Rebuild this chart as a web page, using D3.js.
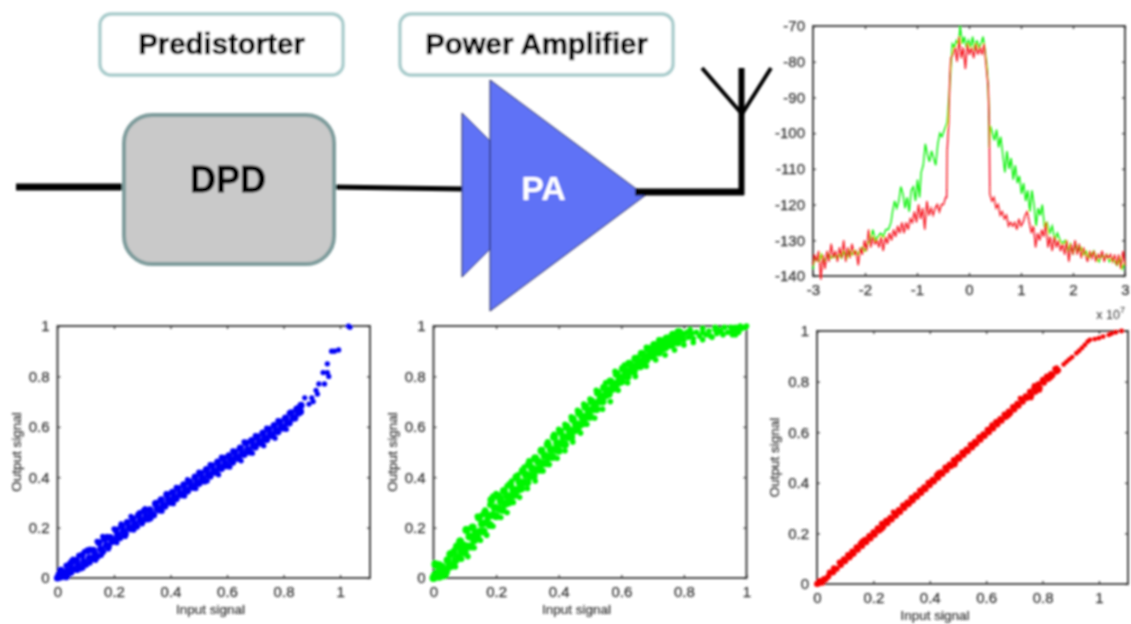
<!DOCTYPE html>
<html>
<head>
<meta charset="utf-8">
<style>
  html, body { margin: 0; padding: 0; background: #fff; }
  text { font-family: "Liberation Sans", Arial, sans-serif; }
</style>
<script src="https://cdn.jsdelivr.net/npm/d3@7"></script>
</head>
<body>
<script>
// tick labels
var unitTicks = [0, 0.2, 0.4, 0.6, 0.8, 1];
var freqTicks = [-3, -2, -1, 0, 1, 2, 3];
var dbTicks = [-140, -130, -120, -110, -100, -90, -80, -70];

// spectrum, x in units of 1e7 Hz, y in dB
var greenSpectrum = [
    [-3,-138],[-2.97,-135],[-2.93,-135],[-2.88,-136],[-2.84,-134],[-2.8,-136],[-2.75,-135],[-2.7,-134],[-2.65,-135],
    [-2.6,-134],[-2.55,-135],[-2.5,-134],[-2.45,-135],[-2.4,-133],[-2.35,-135],[-2.3,-133],[-2.25,-134],[-2.2,-133],
    [-2.15,-134],[-2.1,-133],[-2.05,-132],[-2,-133],[-1.95,-131],[-1.9,-130],[-1.85,-127],[-1.8,-130],[-1.75,-129],
    [-1.7,-128],[-1.65,-129],[-1.6,-127],[-1.55,-127],[-1.5,-125],[-1.47,-122],[-1.43,-119],[-1.39,-121],[-1.35,-119],
    [-1.31,-115],[-1.27,-117],[-1.23,-121],[-1.19,-118],[-1.15,-122],[-1.11,-116],[-1.07,-115],[-1.03,-119],[-0.99,-113],
    [-0.95,-118],[-0.92,-111],[-0.88,-109],[-0.84,-103],[-0.8,-106],[-0.76,-108],[-0.72,-105],[-0.68,-107],[-0.64,-109],
    [-0.6,-103],[-0.56,-100],[-0.52,-101],[-0.47,-99],[-0.42,-97],[-0.38,-89],[-0.35,-82],[-0.32,-75],[-0.28,-76],
    [-0.24,-74],[-0.2,-75],[-0.17,-70],[-0.13,-75],[-0.09,-73],[-0.05,-76],[-0.01,-74],[0.03,-76],[0.07,-73],
    [0.11,-77],[0.15,-74],[0.19,-76],[0.23,-75],[0.27,-73],[0.31,-77],[0.35,-82],[0.38,-92],[0.39,-104],
    [0.41,-98],[0.45,-100],[0.49,-102],[0.53,-99],[0.57,-104],[0.61,-101],[0.65,-106],[0.69,-111],[0.73,-105],
    [0.77,-110],[0.81,-107],[0.85,-113],[0.89,-109],[0.93,-114],[0.97,-112],[1.01,-117],[1.05,-114],[1.09,-119],
    [1.13,-116],[1.17,-122],[1.21,-116],[1.25,-120],[1.29,-126],[1.33,-121],[1.37,-123],[1.41,-120],[1.45,-126],
    [1.5,-125],[1.55,-128],[1.6,-126],[1.65,-130],[1.7,-128],[1.75,-130],[1.8,-131],[1.85,-130],[1.9,-133],
    [1.95,-131],[2,-134],[2.05,-131],[2.1,-133],[2.15,-132],[2.2,-134],[2.25,-133],[2.3,-135],[2.35,-134],
    [2.4,-133],[2.45,-135],[2.5,-136],[2.55,-134],[2.6,-135],[2.65,-134],[2.7,-136],[2.75,-135],[2.8,-136],
    [2.85,-137],[2.9,-135],[2.95,-138],[3,-136]
];
var redSpectrum = [
    [-3,-137],[-2.97,-134],[-2.93,-136],[-2.89,-133],[-2.85,-141],[-2.81,-134],[-2.77,-138],[-2.73,-133],[-2.69,-136],
    [-2.65,-131],[-2.61,-135],[-2.57,-133],[-2.53,-136],[-2.49,-132],[-2.45,-135],[-2.41,-130],[-2.37,-136],[-2.33,-132],
    [-2.29,-135],[-2.25,-131],[-2.21,-134],[-2.17,-133],[-2.13,-137],[-2.09,-132],[-2.05,-134],[-2.01,-130],[-1.97,-133],
    [-1.93,-127],[-1.89,-132],[-1.85,-129],[-1.81,-131],[-1.77,-130],[-1.73,-132],[-1.69,-129],[-1.65,-133],[-1.61,-129],
    [-1.57,-131],[-1.53,-128],[-1.49,-130],[-1.45,-127],[-1.41,-129],[-1.37,-126],[-1.33,-128],[-1.29,-125],[-1.25,-128],
    [-1.21,-125],[-1.17,-127],[-1.13,-124],[-1.09,-125],[-1.05,-122],[-1.01,-125],[-0.97,-120],[-0.93,-124],[-0.89,-121],
    [-0.85,-127],[-0.81,-119],[-0.77,-123],[-0.73,-121],[-0.69,-123],[-0.65,-121],[-0.61,-120],[-0.57,-122],[-0.53,-120],
    [-0.49,-120],[-0.45,-118],[-0.43,-118],[-0.42,-105],[-0.39,-97],[-0.37,-85],[-0.35,-79],[-0.31,-78],[-0.27,-76],
    [-0.23,-80],[-0.19,-73],[-0.15,-79],[-0.11,-76],[-0.07,-82],[-0.03,-75],[0.01,-78],[0.05,-76],[0.09,-79],
    [0.13,-75],[0.17,-78],[0.21,-76],[0.25,-78],[0.29,-75],[0.33,-81],[0.37,-87],[0.39,-98],[0.4,-117],
    [0.44,-119],[0.48,-118],[0.52,-121],[0.56,-120],[0.6,-123],[0.64,-122],[0.68,-124],[0.72,-123],[0.76,-126],
    [0.8,-125],[0.84,-126],[0.88,-125],[0.92,-127],[0.96,-124],[1,-126],[1.04,-125],[1.08,-123],[1.12,-122],
    [1.16,-125],[1.2,-128],[1.24,-126],[1.28,-132],[1.32,-128],[1.36,-130],[1.4,-127],[1.44,-129],[1.48,-125],
    [1.52,-132],[1.56,-129],[1.6,-133],[1.64,-129],[1.68,-132],[1.72,-130],[1.76,-133],[1.8,-131],[1.84,-134],
    [1.88,-130],[1.92,-136],[1.96,-131],[2,-134],[2.04,-130],[2.08,-134],[2.12,-131],[2.16,-135],[2.2,-132],
    [2.24,-134],[2.28,-136],[2.32,-133],[2.36,-135],[2.4,-133],[2.44,-136],[2.48,-134],[2.52,-135],[2.56,-133],
    [2.6,-136],[2.64,-134],[2.68,-135],[2.72,-134],[2.76,-136],[2.8,-134],[2.84,-137],[2.88,-134],[2.92,-138],
    [2.96,-133],[3,-137]
];

// input vs output: dense band, its jagged edge points, sparse points at the top end
var blueBand = [
    [0,0],[.005,.012],[.01,.004],[.012,.03],[.02,.01],[.028,.018],[.03,.005],[.035,.028],
    [.04,.02],[.045,.055],[.05,.035],[.052,.065],[.06,.035],[.067,.07],[.073,.05],
    [.08,.04],[.087,.09],[.093,.065],[.10,.055],[.107,.108],[.113,.08],[.12,.075],[.127,.11],[.133,.095],
    [.14,.085],[.147,.14],[.153,.115],[.16,.105],[.167,.155],[.173,.13],[.18,.125],[.187,.16],[.193,.145],
    [.20,.15],[.207,.19],[.213,.17],[.22,.16],[.227,.205],[.233,.185],[.24,.175],[.247,.22],[.253,.20],
    [.26,.195],[.267,.235],[.273,.215],[.28,.205],[.287,.25],[.293,.23],[.30,.225],[.307,.265],[.313,.245],
    [.32,.235],[.327,.27],[.333,.255],[.34,.25],[.347,.295],[.353,.275],[.36,.27],[.367,.31],[.373,.29],
    [.38,.285],[.387,.33],[.393,.31],[.40,.30],[.407,.34],[.413,.32],[.42,.315],[.427,.355],[.433,.335],
    [.44,.33],[.447,.37],[.453,.35],[.46,.345],[.467,.382],[.473,.365],[.48,.36],[.487,.40],[.493,.38],
    [.50,.375],[.507,.415],[.513,.395],[.52,.385],[.527,.43],[.533,.41],[.54,.405],[.547,.445],[.553,.425],
    [.56,.42],[.567,.46],[.573,.44],[.58,.435],[.587,.475],[.593,.455],[.60,.445],[.607,.485],[.613,.47],
    [.62,.46],[.627,.50],[.633,.48],[.64,.475],[.647,.515],[.653,.495],[.66,.49],[.667,.535],[.673,.51],
    [.68,.50],[.687,.545],[.693,.525],[.70,.52],[.707,.56],[.713,.54],[.72,.535],[.727,.575],[.733,.555],
    [.74,.55],[.747,.59],[.753,.57],[.76,.565],[.767,.605],[.773,.585],[.78,.58],[.787,.62],[.793,.60],
    [.80,.595],[.807,.635],[.813,.615],[.82,.615],[.827,.655],[.833,.635],[.84,.635],[.847,.67],[.853,.655],[.86,.66],[.862,.685]
];
var blueEdge = [
    [.03,.05],[.055,.075],[.075,.09],[.095,.105],[.115,.115],[.14,.145],[.16,.165],[.175,.165],[.2,.195],[.225,.215],
    [.26,.245],[.29,.26],[.31,.275],[.35,.30],[.385,.335],[.42,.36],[.46,.39],[.5,.42],[.54,.45],[.58,.48],
    [.62,.505],[.66,.54],[.7,.565],[.74,.595],[.78,.625],[.82,.655],[.85,.675],
    [.05,.02],[.07,.03],[.09,.04],[.115,.06],[.135,.07],[.155,.09],[.18,.115],[.21,.14],[.24,.165],[.27,.19],
    [.3,.215],[.33,.235],[.37,.265],[.41,.295],[.45,.325],[.49,.355],[.53,.385],[.57,.41],[.61,.44],[.65,.465],
    [.69,.495],[.73,.525],[.77,.555],[.81,.59]
];
var blueTail = [
    [.875,.715],[.89,.69],[.90,.715],[.905,.70],[.915,.745],[.925,.77],[.92,.73],[.945,.77],[.94,.815],
    [.955,.85],[.96,.80],[.955,.815],[.97,.90],[.98,.90],[.995,.905],[1.035,.995],[1.03,1]
];
var greenBand = [
    [0,0],[.004,.01],[.006,.055],[.012,.02],[.015,.05],[.018,.005],[.022,.015],[.026,.045],[.03,.01],[.035,.03],
    [.04,.025],[.045,.07],[.05,.045],[.055,.095],[.06,.05],[.065,.10],[.07,.07],[.075,.125],
    [.08,.08],[.085,.145],[.09,.105],[.095,.13],[.10,.10],[.105,.19],[.11,.125],[.115,.165],
    [.12,.125],[.125,.20],[.13,.15],[.135,.18],[.14,.16],[.145,.24],[.15,.185],[.155,.215],
    [.16,.185],[.165,.26],[.17,.22],[.175,.245],[.18,.21],[.185,.31],[.19,.25],[.195,.28],
    [.20,.245],[.205,.325],[.21,.275],[.215,.305],[.22,.27],[.225,.345],[.23,.295],[.235,.325],
    [.24,.30],[.245,.37],[.25,.325],[.255,.35],[.26,.33],[.265,.40],[.27,.35],[.275,.38],
    [.28,.355],[.285,.425],[.29,.38],[.295,.41],[.30,.38],[.305,.45],[.31,.405],[.315,.435],
    [.32,.405],[.325,.475],[.33,.43],[.335,.46],[.34,.43],[.345,.505],[.35,.455],[.355,.485],
    [.36,.455],[.365,.53],[.37,.48],[.375,.51],[.38,.48],[.385,.56],[.39,.51],[.395,.535],
    [.40,.505],[.405,.58],[.41,.535],[.415,.56],[.42,.53],[.425,.60],[.43,.56],[.435,.585],
    [.44,.56],[.445,.63],[.45,.585],[.455,.61],[.46,.59],[.465,.655],[.47,.61],[.475,.64],
    [.48,.615],[.485,.68],[.49,.64],[.495,.665],[.50,.64],[.505,.70],[.51,.67],[.515,.69],
    [.52,.67],[.525,.735],[.53,.70],[.535,.72],[.54,.70],[.545,.755],[.55,.725],[.555,.745],
    [.56,.73],[.565,.78],[.57,.75],[.575,.77],[.58,.755],[.585,.81],[.59,.775],[.595,.795],
    [.60,.78],[.605,.83],[.61,.80],[.615,.82],[.62,.80],[.625,.85],[.63,.82],[.635,.84],
    [.64,.82],[.645,.87],[.65,.84],[.655,.86],[.66,.84],[.665,.89],[.67,.86],[.675,.88],
    [.68,.865],[.685,.91],[.69,.88],[.695,.90],[.70,.88],[.705,.925],[.71,.895],[.715,.915],
    [.72,.895],[.725,.94],[.73,.91],[.735,.93],[.74,.915],[.745,.95],[.75,.925],[.755,.945],
    [.76,.925],[.765,.965],[.77,.94],[.775,.955],[.78,.935],[.785,.975],[.79,.95],[.795,.965]
];
var greenEdge = [
    [.02,.055],[.05,.095],[.065,.11],[.085,.15],[.105,.195],[.125,.16],[.14,.245],[.155,.25],[.165,.27],[.18,.29],
    [.19,.325],[.2,.335],[.215,.32],[.235,.365],[.25,.385],[.27,.41],[.29,.44],[.305,.465],[.32,.47],[.345,.51],
    [.365,.54],[.385,.57],[.4,.59],[.42,.61],[.44,.64],[.46,.665],[.48,.69],[.5,.71],[.52,.745],[.55,.775],
    [.58,.82],[.61,.845],[.65,.875],[.68,.915],[.72,.945],[.75,.955],[.78,.98],[.82,.985],[.86,.99],[.9,.995],
    [.04,.012],[.07,.045],[.09,.075],[.11,.085],[.13,.12],[.15,.15],[.17,.17],[.19,.205],[.215,.24],[.235,.26],
    [.255,.30],[.275,.32],[.30,.355],[.325,.385],[.35,.425],[.37,.45],[.395,.475],[.42,.505],[.445,.54],[.47,.575],
    [.49,.61],[.515,.635],[.54,.67],[.565,.70],[.59,.745],[.62,.775],[.645,.80],[.68,.84],[.71,.865],[.74,.885],
    [.77,.905],[.80,.925],[.83,.935],[.86,.945],[.89,.955],[.925,.965],[.955,.965],[.975,.975],[.965,.965]
];
var greenTail = [
    [.80,.945],[.81,.975],[.815,.955],[.825,.97],[.83,.95],[.84,.975],[.85,.96],[.86,.975],[.87,.965],[.88,.98],
    [.885,.96],[.9,.985],[.905,.97],[.915,.985],[.92,.975],[.93,.995],[.94,.975],[.95,.995],[.955,.98],
    [.965,.995],[.97,.985],[.98,1],[.985,.99],[.995,.995],[1,1]
];
var redBand = [
    [0,0],[.005,.002],[.01,.012],[.018,.005],[.025,.02],[.03,.018],[.04,.03],[.045,.045],[.055,.045],[.06,.062],
    [.07,.06],[.08,.085],[.085,.075],[.095,.098],[.10,.09],[.11,.115],[.115,.105],[.125,.128],[.13,.12],[.14,.145],
    [.145,.135],[.155,.16],[.16,.15],[.17,.175],[.175,.165],[.185,.19],[.19,.18],[.20,.205],[.205,.195],[.215,.22],
    [.22,.21],[.23,.238],[.235,.225],[.245,.25],[.25,.24],[.26,.262],[.265,.255],[.275,.28],[.28,.27],[.29,.292],
    [.295,.285],[.305,.31],[.31,.30],[.32,.322],[.325,.315],[.335,.34],[.34,.33],[.35,.352],[.355,.345],[.365,.37],
    [.37,.36],[.38,.382],[.385,.375],[.395,.40],[.40,.39],[.41,.412],[.415,.405],[.425,.43],[.43,.42],[.44,.442],
    [.445,.435],[.455,.46],[.46,.45],[.47,.472],[.475,.465],[.485,.49],[.49,.48],[.50,.502],[.505,.495],[.515,.52],
    [.52,.51],[.53,.532],[.535,.525],[.545,.55],[.55,.54],[.56,.562],[.565,.555],[.575,.58],[.58,.57],[.59,.592],
    [.595,.585],[.605,.61],[.61,.60],[.62,.622],[.625,.615],[.635,.64],[.64,.63],[.65,.652],[.655,.645],[.665,.67],
    [.67,.66],[.68,.682],[.685,.675],[.695,.70],[.70,.69],[.71,.712],[.715,.705],[.725,.73],[.73,.72],[.74,.742],
    [.745,.735],[.755,.76],[.76,.745],[.77,.775],[.775,.76],[.785,.79],[.79,.775],[.80,.802],[.805,.795],[.815,.82],
    [.82,.81],[.83,.83],[.835,.825],[.845,.85],[.85,.84],[.855,.845]
];
var redEdge = [
    [.06,.045],[.12,.11],[.16,.17],[.23,.215],[.27,.285],[.33,.32],[.43,.44],[.49,.47],[.56,.55],[.62,.63],
    [.68,.665],[.72,.735],[.76,.735],[.77,.785],[.79,.765],[.8,.81],[.83,.815],[.85,.855]
];
var redTail = [
    [.875,.868],[.885,.878],[.895,.888],[.905,.897],[.92,.912],[.93,.922],[.94,.933],[.95,.945],[.96,.958],[.968,.965],
    [.985,.968],[1,.972],[1.015,.978],[1.035,.985],[1.045,.99],[1.06,.995],[1.08,1]
];

var svg = d3.select('body').append('svg')
    .attr('width', 1131)
    .attr('height', 624);

// the picture is a soft screenshot; below about 0.8 the blur has no effect
var defs = svg.append('defs');
defs.append('filter').attr('id', 'soft').attr('x', '-5%').attr('y', '-5%').attr('width', '110%').attr('height', '110%')
    .append('feGaussianBlur').attr('stdDeviation', 0.85);

function drawAxes(g, x, y, w, h, xTicks, yTicks) {
    var axes = [
        { ax: d3.axisBottom(x).tickValues(xTicks), at: [0, h], label: true },
        { ax: d3.axisTop(x).tickValues(xTicks), at: [0, 0], label: false },
        { ax: d3.axisLeft(y).tickValues(yTicks), at: [0, 0], label: true },
        { ax: d3.axisRight(y).tickValues(yTicks), at: [w, 0], label: false }
    ];
    axes.forEach(function (a) {
        var ag = g.append('g')
            .attr('transform', 'translate(' + a.at[0] + ',' + a.at[1] + ')')
            .call(a.ax.tickSize(-3).tickSizeOuter(0).tickPadding(8).tickFormat(function (d) { return a.label ? String(d) : ''; }));
        ag.select('.domain').remove();
        ag.selectAll('line').attr('stroke', '#333').attr('stroke-width', 1.2);
        ag.selectAll('text').attr('fill', '#333').attr('stroke', '#333').attr('stroke-width', 0.25)
            .attr('font-size', 15).attr('font-family', null);
    });
    g.append('rect')
        .attr('width', w).attr('height', h)
        .attr('fill', 'none').attr('stroke', '#333').attr('stroke-width', 1.8);
}

function scatterPanel(root, box, xMax, band, edge, tail, colour, radius) {
    var w = box.right - box.left, h = box.bottom - box.top;
    var x = d3.scaleLinear().domain([0, xMax]).range([0, w]);
    var y = d3.scaleLinear().domain([0, 1]).range([h, 0]);
    var g = root.append('g').attr('transform', 'translate(' + box.left + ',' + box.top + ')');
    drawAxes(g, x, y, w, h, unitTicks, unitTicks);
    function dots(pts, r) {
        g.append('g').selectAll('circle').data(pts).join('circle')
            .attr('cx', function (d) { return x(d[0]); })
            .attr('cy', function (d) { return y(d[1]); })
            .attr('r', r)
            .attr('fill', colour);
    }
    dots(band, radius);
    dots(edge, box.tailR);
    dots(tail, box.tailR);
    g.append('text').attr('x', box.xLabel).attr('y', h + 36)
        .attr('text-anchor', 'middle').attr('font-size', 13.5).attr('fill', '#333').attr('stroke', '#333').attr('stroke-width', 0.2)
        .text('Input signal');
    g.append('text').attr('transform', 'translate(' + box.yLabel + ',' + (h / 2) + ') rotate(-90)')
        .attr('text-anchor', 'middle').attr('font-size', 13.5).attr('fill', '#333').attr('stroke', '#333').attr('stroke-width', 0.2)
        .text('Output signal');
}

var plots = svg.append('g').attr('filter', 'url(#soft)');

// spectrum
var sp = { left: 813, right: 1125, top: 26, bottom: 276 };
var spW = sp.right - sp.left, spH = sp.bottom - sp.top;
var spX = d3.scaleLinear().domain([-3, 3]).range([0, spW]);
var spY = d3.scaleLinear().domain([-140, -70]).range([spH, 0]);
var spG = plots.append('g').attr('transform', 'translate(' + sp.left + ',' + sp.top + ')');
drawAxes(spG, spX, spY, spW, spH, freqTicks, dbTicks);
var spLine = d3.line().x(function (d) { return spX(d[0]); }).y(function (d) { return spY(d[1]); });
spG.append('path').datum(greenSpectrum).attr('d', spLine)
    .attr('fill', 'none').attr('stroke', '#00f000').attr('stroke-width', 1.4);
spG.append('path').datum(redSpectrum).attr('d', spLine)
    .attr('fill', 'none').attr('stroke', '#f5101a').attr('stroke-width', 1.4);
var exp = spG.append('text').attr('x', spW).attr('y', spH + 43)
    .attr('text-anchor', 'end').attr('font-size', 12.5).attr('fill', '#333');
exp.append('tspan').text('x 10');
exp.append('tspan').attr('dy', -6).attr('font-size', 9).text('7');

// scatter panels
scatterPanel(plots, { left: 57.5, right: 370, top: 326, bottom: 578, xLabel: 153, yLabel: -37, tailR: 2.6 }, 1.106, blueBand, blueEdge, blueTail, '#0000f5', 3.6);
scatterPanel(plots, { left: 433.5, right: 746.5, top: 326, bottom: 578, xLabel: 143, yLabel: -37, tailR: 2.8 }, 1, greenBand, greenEdge, greenTail, '#00f500', 4);
scatterPanel(plots, { left: 817, right: 1128, top: 331, bottom: 584, xLabel: 118, yLabel: -38, tailR: 2.4 }, 1.103, redBand, redEdge, redTail, '#f50000', 3);

// block diagram
var dia = svg.append('g').attr('filter', 'url(#soft)');
function labelBox(x, y, w, h, t) {
    dia.append('rect').attr('x', x).attr('y', y).attr('width', w).attr('height', h).attr('rx', 11)
        .attr('fill', '#fff').attr('stroke', '#a9cccc').attr('stroke-width', 3.4);
    dia.append('text').attr('x', x + w / 2).attr('y', y + h / 2 + 9.5)
        .attr('text-anchor', 'middle').attr('font-size', 29.4).attr('font-weight', 'bold')
        .attr('fill', '#000').attr('stroke', '#000').attr('stroke-width', 0.7)
        .text(t);
}
labelBox(100, 14, 243, 61, 'Predistorter');
labelBox(400, 14, 273, 61, 'Power Amplifier');

function wire(x1, y1, x2, y2, width) {
    dia.append('line').attr('x1', x1).attr('y1', y1).attr('x2', x2).attr('y2', y2)
        .attr('stroke', '#000').attr('stroke-width', width);
}
wire(16, 187, 126, 187, 7);
wire(332, 187, 464, 189, 5);
dia.append('polygon').attr('points', '462,113 544,195 462,277')
    .attr('fill', '#5f72f6').attr('stroke', '#1a1a40').attr('stroke-width', 1);
dia.append('polygon').attr('points', '490,80 645,195.5 490,311')
    .attr('fill', '#5f72f6').attr('stroke', '#1a1a40').attr('stroke-width', 1);
wire(635, 192, 744, 192, 7);
wire(741.5, 195, 741.5, 68, 6);
wire(702, 68, 742, 114, 4);
wire(771, 68, 742, 114, 4);

dia.append('rect').attr('x', 124).attr('y', 115).attr('width', 210).attr('height', 149).attr('rx', 28)
    .attr('fill', '#c9c9c9').attr('stroke', '#7e9c9c').attr('stroke-width', 4);
dia.append('text').attr('x', 228).attr('y', 192).attr('text-anchor', 'middle')
    .attr('font-size', 36).attr('font-weight', 'bold')
    .attr('fill', '#000').attr('stroke', '#000').attr('stroke-width', 0.8).text('DPD');
dia.append('text').attr('x', 543.5).attr('y', 200).attr('text-anchor', 'middle')
    .attr('font-size', 34).attr('font-weight', 'bold').attr('fill', '#fff').text('PA');
</script>
</body>
</html>
